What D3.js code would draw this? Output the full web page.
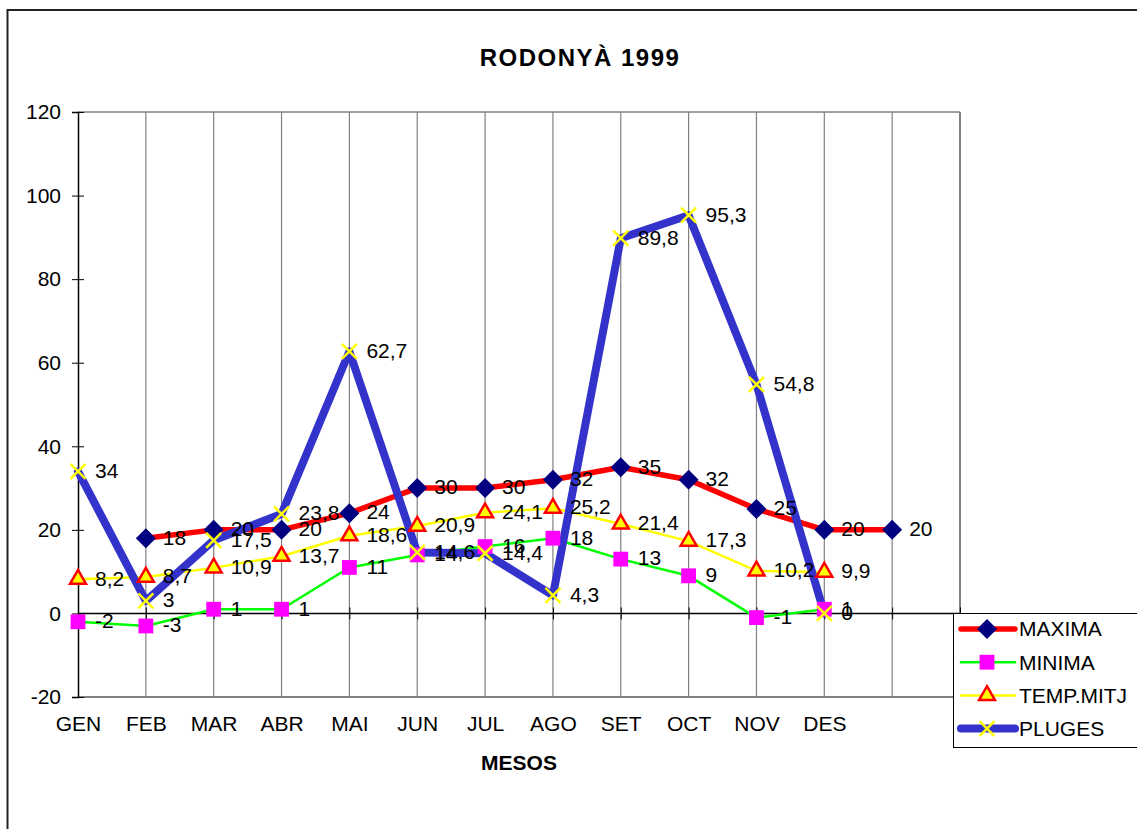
<!DOCTYPE html>
<html>
<head>
<meta charset="utf-8">
<script src="https://cdn.jsdelivr.net/npm/d3@7"></script>
<style>
	body { margin:0; background:#fff; }
	text { font-family: "Liberation Sans", Arial, sans-serif; fill:#000; }
</style>
</head>
<body>
<div id="graph"></div>
<script>
var months = ["GEN","FEB","MAR","ABR","MAI","JUN","JUL","AGO","SET","OCT","NOV","DES"];
var maxima = [null,18,20,20,24,30,30,32,35,32,25,20,20];
var minima = [-2,-3,1,1,11,14,16,18,13,9,-1,1];
var tempMitj = [8.2,8.7,10.9,13.7,18.6,20.9,24.1,25.2,21.4,17.3,10.2,9.9];
var pluges = [34,3,17.5,23.8,62.7,14.6,14.4,4.3,89.8,95.3,54.8,0];
var yTicks = [-20,0,20,40,60,80,100,120];
var seriesNames = ["MAXIMA","MINIMA","TEMP.MITJ","PLUGES"];

var width = 1137, height = 829;
var padding = {left:78, right:177, top:112, bottom:132};

var graph = d3.select("div#graph")
	.append("svg")
	.attr("width", width)
	.attr("height", height);

// outer frame of the chart object
graph.append("rect")
	.attr("x", 7.5).attr("y", 10)
	.attr("width", 1140).attr("height", 840)
	.attr("fill", "none")
	.attr("stroke", "#222")
	.attr("stroke-width", 2);

var xScale = d3.scalePoint()
	.domain(d3.range(14))
	.range([padding.left, width - padding.right]);

var yScale = d3.scaleLinear()
	.domain([-20,120])
	.range([height - padding.bottom, padding.top]);

// vertical gridlines + plot border
graph.append("g")
	.selectAll("line")
	.data(d3.range(1,14))
	.enter().append("line")
	.attr("x1", d => xScale(d)).attr("x2", d => xScale(d))
	.attr("y1", yScale(120)).attr("y2", yScale(-20))
	.attr("stroke", "#808080")
	.attr("stroke-width", d => d == 13 ? 2 : 1.2);

graph.append("line")
	.attr("x1", xScale(0)).attr("x2", xScale(13))
	.attr("y1", yScale(120)).attr("y2", yScale(120))
	.attr("stroke", "#808080").attr("stroke-width", 1.5);
graph.append("line")
	.attr("x1", xScale(0)).attr("x2", xScale(13))
	.attr("y1", yScale(-20)).attr("y2", yScale(-20))
	.attr("stroke", "#808080").attr("stroke-width", 2);

var yAxis = d3.axisLeft(yScale)
	.tickValues(yTicks)
	.tickFormat(d => String(d))   // plain hyphen, not the unicode minus
	.tickSize(6)
	.tickPadding(11);

var yAxisG = graph.append("g")
	.attr("class", "y axis")
	.attr("transform", `translate(${padding.left}, 0)`)
	.call(yAxis);
yAxisG.select(".domain").attr("stroke", "#000").attr("stroke-width", 1.5);
yAxisG.selectAll(".tick line").attr("x2", -6).attr("x1", 6).attr("stroke", "#000");
yAxisG.selectAll("text")
	.style("font-size", "21px")
	.style("font-family", "'Liberation Sans', Arial, sans-serif");

// category axis crosses at zero
var xAxis = d3.axisBottom(xScale)
	.tickSize(6)
	.tickFormat("");

var xAxisG = graph.append("g")
	.attr("class", "x axis")
	.attr("transform", `translate(0, ${yScale(0)})`)
	.call(xAxis);
xAxisG.select(".domain").attr("stroke", "#000").attr("stroke-width", 1.5).attr("d", `M${xScale(0)},0H${xScale(13)}`);
xAxisG.selectAll(".tick line").attr("y1", -6).attr("y2", 6).attr("stroke", "#000");

// month labels sit below the plot area
var xLabels = d3.axisBottom(xScale)
	.tickSize(0)
	.tickPadding(19)
	.tickFormat(i => months[i] || "");

var xLabelG = graph.append("g")
	.attr("transform", `translate(0, ${yScale(-20)})`)
	.call(xLabels);
xLabelG.select(".domain").remove();
xLabelG.selectAll("text")
	.style("font-size", "21px")
	.style("font-family", "'Liberation Sans', Arial, sans-serif");

graph.append("text")
	.attr("x", 580)
	.attr("y", 66)
	.style("text-anchor", "middle")
	.style("font-size", "24px")
	.style("font-weight", "bold")
	.style("letter-spacing", "1.5px")
	.text("RODONYÀ 1999");

graph.append("text")
	.attr("x", 519)
	.attr("y", 770)
	.style("text-anchor", "middle")
	.style("font-size", "21px")
	.style("font-weight", "bold")
	.text("MESOS");

var diamond = d3.symbol().type(d3.symbolSquare).size(200);
var square = d3.symbol().type(d3.symbolSquare).size(220);
var triangle = d3.symbol().type(d3.symbolTriangle).size(110);
function cross(r) { return `M${-r},${-r}L${r},${r}M${-r},${r}L${r},${-r}`; }

var series = [
	{name: seriesNames[0], values: maxima, color: "#ff0000", width: 5.5, turn: "rotate(45)",
		marker: g => g.attr("d", diamond()).attr("fill", "#000080")},
	{name: seriesNames[1], values: minima, color: "#00ff00", width: 2.5, turn: "",
		marker: g => g.attr("d", square()).attr("fill", "#ff00ff")},
	{name: seriesNames[2], values: tempMitj, color: "#ffff00", width: 2.5, turn: "",
		marker: g => g.attr("d", triangle()).attr("fill", "#ffff00").attr("stroke", "#ff0000").attr("stroke-width", 2.5)},
	{name: seriesNames[3], values: pluges, color: "#3333cc", width: 8, turn: "",
		marker: g => g.attr("d", cross(7.5)).attr("fill", "none").attr("stroke", "#ffff00").attr("stroke-width", 2.5)}
];

var line = d3.line()
	.defined(d => d != null)
	.x((d,i) => xScale(i))
	.y(d => yScale(d));

for (let s of series) {
	graph.append("path").datum(s.values)
		.attr("fill", "none")
		.attr("stroke", s.color)
		.attr("stroke-width", s.width)
		.attr("stroke-linejoin", "round")
		.attr("stroke-linecap", "round")
		.attr("d", line);
}

for (let s of series) {
	graph.append("g").selectAll("path")
		.data(s.values.map((v,i) => ({v:v, i:i})).filter(d => d.v != null))
		.enter().append("path")
		.call(s.marker)
		.attr("transform", d => `translate(${xScale(d.i)},${yScale(d.v)}) ${s.turn}`);
}

for (let s of series) {
	graph.append("g").selectAll("text")
		.data(s.values.map((v,i) => ({v:v, i:i})).filter(d => d.v != null))
		.enter().append("text")
		.attr("x", d => xScale(d.i) + 17)
		.attr("y", d => yScale(d.v) - 1)
		.attr("dy", "0.35em")
		.style("font-size", "21px")
		.text(d => String(d.v).replace(".", ","));
}

// legend
var legend = graph.append("g")
	.attr("class", "legend")
	.attr("transform", "translate(953,613)");
legend.append("rect")
	.attr("x", 0.5).attr("y", 0.5)
	.attr("width", 200).attr("height", 134)
	.attr("fill", "#fff")
	.attr("stroke", "#000");

var rows = legend.selectAll("g.row")
	.data(series)
	.enter().append("g")
	.attr("class", "row")
	.attr("transform", (d,i) => `translate(0, ${16 + 33.2*i})`);
rows.append("line")
	.attr("x1", 8).attr("x2", 62)
	.attr("stroke", d => d.color)
	.attr("stroke-width", d => d.width)
	.attr("stroke-linecap", "round");
rows.each(function(d) {
	d3.select(this).append("path")
		.call(d.marker)
		.attr("transform", "translate(34,0) " + d.turn);
});
rows.append("text")
	.attr("x", 66)
	.attr("dy", "0.35em")
	.style("font-size", "21px")
	.text(d => d.name);
</script>
</body>
</html>
